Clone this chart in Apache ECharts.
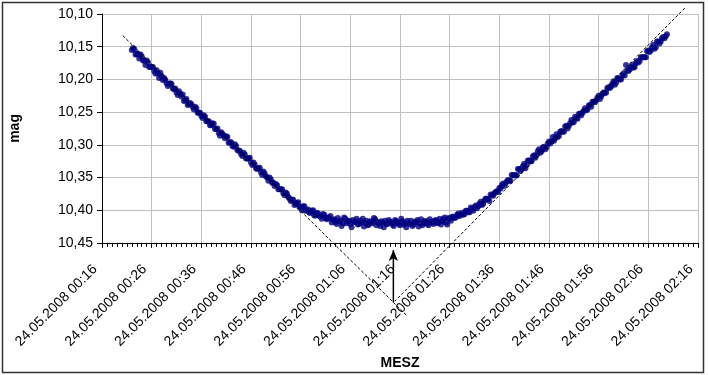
<!DOCTYPE html>
<html>
<head>
<meta charset="utf-8">
<script src="https://cdn.jsdelivr.net/npm/echarts@6/dist/echarts.min.js"></script>
</head>
<body style="margin:0;background:#fff">
<div id="main" style="width:708px;height:375px;"></div>
<script type="text/javascript">
    // Messzeitpunkte (MESZ) und Helligkeiten, erste Bildserie
    var times = [
        '00:22:00','00:22:30','00:23:00','00:23:30','00:24:00','00:24:30','00:25:00','00:25:30','00:26:00','00:26:30',
        '00:27:00','00:27:30','00:28:00','00:28:30','00:29:00','00:29:30','00:30:00','00:30:30','00:31:00','00:31:30',
        '00:32:00','00:32:30','00:33:00','00:33:30','00:34:00','00:34:30','00:35:00','00:35:30','00:36:00',
        '00:36:30','00:37:00','00:37:30','00:38:00','00:38:30','00:39:00','00:39:30','00:40:00','00:40:30','00:41:00',
        '00:41:30','00:42:00','00:42:30','00:43:00','00:43:30','00:44:00','00:44:30','00:45:00','00:45:30','00:46:00',
        '00:46:30','00:47:00','00:47:30','00:48:00','00:48:30','00:49:00','00:49:30','00:50:00','00:50:30','00:51:00',
        '00:51:30','00:52:00',
        '00:52:30','00:53:00','00:53:30','00:54:00','00:54:30','00:55:00','00:55:30','00:56:00','00:56:30','00:57:00',
        '00:57:30','00:58:00','00:58:30','00:59:00','00:59:30','01:00:00','01:00:30','01:01:00','01:01:30','01:02:00',
        '01:02:30','01:03:00','01:03:30','01:04:00','01:04:30','01:05:00','01:05:30','01:06:00','01:06:30','01:07:00',
        '01:07:30','01:08:00','01:08:30','01:09:00','01:09:30','01:10:00','01:10:30','01:11:00','01:11:30','01:12:00',
        '01:12:30','01:13:00','01:13:30','01:14:00','01:14:30','01:15:00','01:15:30','01:16:00','01:16:30','01:17:00',
        '01:17:30','01:18:00','01:18:30','01:19:00','01:19:30','01:20:00','01:20:30','01:21:00','01:21:30','01:22:00',
        '01:22:30','01:23:00','01:23:30','01:24:00','01:24:30','01:25:00',
        '01:25:30','01:26:00','01:26:30','01:27:00','01:27:30','01:28:00','01:28:30','01:29:00','01:29:30','01:30:00',
        '01:30:30','01:31:00','01:31:30','01:32:00','01:32:30','01:33:00','01:33:30','01:34:00','01:34:30','01:35:00',
        '01:35:30','01:36:00',
        '01:36:30','01:37:00','01:37:30','01:38:00','01:38:30','01:39:00','01:39:30','01:40:00','01:40:30','01:41:00',
        '01:41:30','01:42:00','01:42:30','01:43:00','01:43:30','01:44:00','01:44:30','01:45:00','01:45:30','01:46:00',
        '01:46:30','01:47:00','01:47:30','01:48:00','01:48:30','01:49:00','01:49:30','01:50:00','01:50:30','01:51:00',
        '01:51:30','01:52:00','01:52:30','01:53:00','01:53:30','01:54:00','01:54:30','01:55:00','01:55:30','01:56:00',
        '01:56:30','01:57:00','01:57:30','01:58:00','01:58:30','01:59:00','01:59:30','02:00:00','02:00:30','02:01:00',
        '02:01:30','02:02:00','02:02:30','02:03:00','02:03:30','02:04:00','02:04:30','02:05:00','02:05:30','02:06:00',
        '02:06:30','02:07:00','02:07:30','02:08:00','02:08:30','02:09:00','02:09:30'
    ];
    var mags = [
        10.155,10.154,10.161,10.168,10.165,10.171,10.171,10.181,10.181,10.187,
        10.186,10.198,10.195,10.198,10.206,10.207,10.207,10.215,10.220,10.218,
        10.226,10.233,10.230,10.238,10.238,10.246,10.244,10.251,10.256,
        10.255,10.264,10.264,10.270,10.268,10.276,10.282,10.281,10.286,10.287,
        10.297,10.296,10.303,10.302,10.309,10.314,10.312,10.321,10.321,10.327,
        10.327,10.336,10.336,10.342,10.341,10.348,10.355,10.353,10.358,10.360,
        10.368,10.368,
        10.374,10.373,10.380,10.386,10.384,10.390,10.388,10.396,10.394,10.401,
        10.399,10.404,10.400,10.408,10.405,10.409,10.406,10.412,10.411,10.409,
        10.415,10.418,10.412,10.416,10.420,10.413,10.417,10.421,10.415,10.418,
        10.422,10.416,10.413,10.419,10.423,10.417,10.420,10.414,10.418,10.424,
        10.419,10.416,10.421,10.418,10.422,10.415,10.419,10.423,10.417,10.420,
        10.416,10.421,10.424,10.418,10.415,10.420,10.423,10.417,10.421,10.414,
        10.419,10.416,10.420,10.413,10.417,10.411,
        10.422,10.413,10.410,10.412,10.407,10.409,10.404,10.406,10.401,10.403,
        10.398,10.395,10.397,10.390,10.392,10.385,10.383,10.386,10.377,10.374,
        10.371,10.366,
        10.362,10.363,10.356,10.355,10.346,10.347,10.347,10.337,10.337,10.329,
        10.331,10.324,10.325,10.316,10.316,10.307,10.310,10.303,10.304,10.295,
        10.295,10.294,10.284,10.286,10.279,10.280,10.271,10.271,10.262,10.265,
        10.259,10.253,10.255,10.248,10.247,10.240,10.242,10.234,10.232,10.225,
        10.226,10.220,10.220,10.212,10.211,10.203,10.205,10.199,10.200,10.191,
        10.178,10.187,10.181,10.182,10.175,10.174,10.166,10.166,10.166,10.156,
        10.156,10.147,10.151,10.142,10.142,10.135,10.134
    ];

    // zweite Bildserie, jeweils 15 s versetzt
    var times2 = [
        '00:22:15','00:22:45','00:23:15','00:23:45','00:24:15','00:24:45','00:25:15','00:25:45','00:26:15','00:26:45',
        '00:27:15','00:27:45','00:28:15','00:28:45','00:29:15','00:29:45','00:30:15','00:30:45','00:31:15','00:31:45',
        '00:32:15','00:32:45','00:33:15','00:33:45','00:34:15','00:34:45','00:35:15','00:35:45',
        '00:36:15','00:36:45','00:37:15','00:37:45','00:38:15','00:38:45','00:39:15','00:39:45','00:40:15','00:40:45',
        '00:41:15','00:41:45','00:42:15','00:42:45','00:43:15','00:43:45','00:44:15','00:44:45','00:45:15','00:45:45',
        '00:46:15','00:46:45','00:47:15','00:47:45','00:48:15','00:48:45','00:49:15','00:49:45','00:50:15','00:50:45',
        '00:51:15','00:51:45',
        '00:52:15','00:52:45','00:53:15','00:53:45','00:54:15','00:54:45','00:55:15','00:55:45','00:56:15','00:56:45',
        '00:57:15','00:57:45','00:58:15','00:58:45','00:59:15','00:59:45','01:00:15','01:00:45','01:01:15','01:01:45',
        '01:02:15','01:02:45','01:03:15','01:03:45','01:04:15','01:04:45','01:05:15','01:05:45','01:06:15','01:06:45',
        '01:07:15','01:07:45','01:08:15','01:08:45','01:09:15','01:09:45','01:10:15','01:10:45','01:11:15','01:11:45',
        '01:12:15','01:12:45','01:13:15','01:13:45','01:14:15','01:14:45','01:15:15','01:15:45','01:16:15','01:16:45',
        '01:17:15','01:17:45','01:18:15','01:18:45','01:19:15','01:19:45','01:20:15','01:20:45','01:21:15','01:21:45',
        '01:22:15','01:22:45','01:23:15','01:23:45','01:24:15','01:24:45',
        '01:25:15','01:25:45','01:26:15','01:26:45','01:27:15','01:27:45','01:28:15','01:28:45','01:29:15','01:29:45',
        '01:30:15','01:30:45','01:31:15','01:31:45','01:32:15','01:32:45','01:33:15','01:33:45','01:34:15','01:34:45',
        '01:35:15','01:35:45',
        '01:36:15','01:36:45','01:37:15','01:37:45','01:38:15','01:38:45','01:39:15','01:39:45','01:40:15','01:40:45',
        '01:41:15','01:41:45','01:42:15','01:42:45','01:43:15','01:43:45','01:44:15','01:44:45','01:45:15','01:45:45',
        '01:46:15','01:46:45','01:47:15','01:47:45','01:48:15','01:48:45','01:49:15','01:49:45','01:50:15','01:50:45',
        '01:51:15','01:51:45','01:52:15','01:52:45','01:53:15','01:53:45','01:54:15','01:54:45','01:55:15','01:55:45',
        '01:56:15','01:56:45','01:57:15','01:57:45','01:58:15','01:58:45','01:59:15','01:59:45','02:00:15','02:00:45',
        '02:01:15','02:01:45','02:02:15','02:02:45','02:03:15','02:03:45','02:04:15','02:04:45','02:05:15','02:05:45',
        '02:06:15','02:06:45','02:07:15','02:07:45','02:08:15','02:08:45','02:09:15','02:09:45'
    ];
    var mags2 = [
        10.152,10.162,10.161,10.162,10.171,10.178,10.174,10.181,10.181,10.191,
        10.191,10.190,10.201,10.201,10.210,10.206,10.214,10.214,10.224,10.222,
        10.223,10.232,10.239,10.236,10.242,10.242,10.251,10.251,
        10.259,10.257,10.264,10.270,10.267,10.276,10.275,10.286,10.283,10.290,
        10.288,10.296,10.302,10.299,10.308,10.309,10.317,10.315,10.321,10.320,
        10.331,10.330,10.337,10.335,10.346,10.344,10.350,10.350,10.358,10.363,
        10.362,10.368,
        10.368,10.377,10.375,10.382,10.384,10.392,10.389,10.395,10.400,10.394,
        10.400,10.404,10.401,10.408,10.404,10.409,10.413,10.407,10.414,10.412,
        10.419,10.414,10.421,10.417,10.424,10.411,10.420,10.416,10.426,10.418,
        10.413,10.421,10.419,10.425,10.416,10.422,10.418,10.412,10.423,10.420,
        10.417,10.426,10.421,10.415,10.419,10.424,10.417,10.421,10.413,10.422,
        10.426,10.419,10.416,10.422,10.418,10.425,10.414,10.420,10.417,10.423,
        10.418,10.421,10.415,10.419,10.422,10.414,
        10.419,10.412,10.416,10.410,10.411,10.405,10.407,10.407,10.401,10.403,
        10.396,10.401,10.393,10.394,10.387,10.390,10.382,10.383,10.376,10.378,
        10.372,10.372,
        10.367,10.359,10.359,10.354,10.355,10.346,10.346,10.337,10.340,10.333,
        10.336,10.324,10.325,10.318,10.320,10.310,10.312,10.304,10.307,10.298,
        10.298,10.288,10.290,10.288,10.280,10.280,10.272,10.275,10.267,10.266,
        10.257,10.260,10.252,10.251,10.244,10.246,10.239,10.234,10.235,10.228,
        10.230,10.222,10.221,10.213,10.213,10.207,10.208,10.198,10.200,10.194,
        10.194,10.186,10.185,10.178,10.181,10.172,10.172,10.166,10.166,10.157,
        10.158,10.151,10.153,10.142,10.145,10.137,10.137,10.131
    ];

    // Tangenten (gestrichelt) und Pfeil zum Minimum
    var leftLineT = ['00:20:11', '01:17:21'];
    var leftLineMag = [10.133, 10.561];
    var rightLineT = ['02:13:20', '01:14:58'];
    var rightLineMag = [10.091, 10.539];
    var arrowT = ['01:14:40', '01:14:40'];
    var arrowMag = [10.541, 10.461];

    var dateText = '24.05.2008';
    var axisStart = '00:16:00';
    var yMin = 10.10, yMax = 10.45, yStep = 0.05;

    function toMin(s) {
        var p = s.split(':');
        return (+p[0]) * 60 + (+p[1]) + (+p[2]) / 60;
    }
    var t0 = toMin(axisStart);
    function xOf(s) { return toMin(s) - t0; }
    function pad(n) { return (n < 10 ? '0' : '') + n; }

    var points = times.map(function (t, i) { return [xOf(t), mags[i]]; })
        .concat(times2.map(function (t, i) { return [xOf(t), mags2[i]]; }));
    function pairLine(ts, ms) {
        return ts.map(function (t, i) { return [xOf(t), ms[i]]; });
    }

    var font = 'Liberation Sans, Arial, sans-serif';
    var myChart = echarts.init(document.getElementById('main'));

    var option = {
        animation: false,
        backgroundColor: '#fff',
        textStyle: { fontFamily: font },
        grid: { left: 96, right: 10, top: 14, bottom: 126 },
        xAxis: {
            type: 'value',
            min: 0,
            max: 120,
            interval: 10,
            name: 'MESZ',
            nameLocation: 'middle',
            nameGap: 112,
            nameTextStyle: { fontFamily: font, fontSize: 14, fontWeight: 'bold', color: '#000' },
            axisLine: { onZero: false, lineStyle: { color: '#000', width: 1 } },
            axisTick: { length: 5, lineStyle: { color: '#000' } },
            minorTick: { show: true, splitNumber: 10, length: 4, lineStyle: { color: '#000' } },
            splitLine: { show: true, lineStyle: { color: '#c0c0c0', width: 1 } },
            axisLabel: {
                rotate: 45,
                margin: 17,
                padding: [0, 10, 0, 0],
                fontFamily: font,
                fontSize: 14,
                color: '#000',
                formatter: function (v) {
                    var m = Math.round(v + t0);
                    return dateText + ' ' + pad(Math.floor(m / 60)) + ':' + pad(m % 60);
                }
            }
        },
        yAxis: {
            type: 'value',
            inverse: true,
            min: yMin,
            max: yMax,
            interval: yStep,
            name: 'mag',
            nameLocation: 'middle',
            nameGap: 80,
            nameTextStyle: { fontFamily: font, fontSize: 14, fontWeight: 'bold', color: '#000' },
            axisLine: { show: true, lineStyle: { color: '#000', width: 1 } },
            axisTick: { show: true, length: 5, lineStyle: { color: '#000' } },
            splitLine: { show: true, lineStyle: { color: '#c0c0c0', width: 1 } },
            axisLabel: {
                margin: 9,
                fontFamily: font,
                fontSize: 14,
                color: '#000',
                formatter: function (v) { return v.toFixed(2).replace('.', ','); }
            }
        },
        graphic: [{
            type: 'rect',
            shape: { x: 2.5, y: 2.5, width: 701, height: 370 },
            style: { fill: 'none', stroke: '#333', lineWidth: 1.5 },
            silent: true,
            z: 100
        }],
        series: [{
            type: 'scatter',
            data: points,
            symbol: 'circle',
            symbolSize: 6,
            itemStyle: { color: '#000080' },
            silent: true,
            z: 3
        }, {
            type: 'line',
            data: pairLine(leftLineT, leftLineMag),
            clip: false,
            symbol: 'none',
            silent: true,
            lineStyle: { color: '#000', width: 1, type: [3, 2] },
            z: 4
        }, {
            type: 'line',
            data: pairLine(rightLineT, rightLineMag),
            clip: false,
            symbol: 'none',
            silent: true,
            lineStyle: { color: '#000', width: 1, type: [3, 2] },
            z: 4
        }, {
            type: 'line',
            data: [
                { value: [xOf(arrowT[0]), arrowMag[0]], symbol: 'none' },
                { value: [xOf(arrowT[1]), arrowMag[1]], symbol: 'arrow', symbolSize: [7, 11] }
            ],
            clip: false,
            showSymbol: true,
            silent: true,
            itemStyle: { color: '#000' },
            lineStyle: { color: '#000', width: 1.5 },
            z: 5
        }]
    };
    myChart.setOption(option);
</script>
</body>
</html>
